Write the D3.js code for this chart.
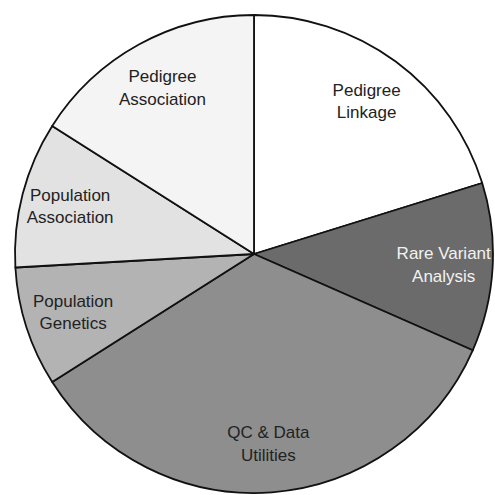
<!DOCTYPE html>
<html>
<head>
<meta charset="utf-8">
<script src="https://cdn.jsdelivr.net/npm/d3@7"></script>
<style>
	body { margin: 0; background: #fff; }
	text { font-family: "Liberation Sans", Arial, sans-serif; }
</style>
</head>
<body>
<script>
// slice names (two lines each) and shares, clockwise from 12 o'clock
var categories = [
	["Pedigree", "Linkage"],
	["Rare Variant", "Analysis"],
	["QC & Data", "Utilities"],
	["Population", "Genetics"],
	["Population", "Association"],
	["Pedigree", "Association"]
];
var values = [20.2, 11.4, 34.4, 8.1, 9.9, 16.0];
var fills = ["#ffffff", "#6b6b6b", "#8e8e8e", "#b3b3b3", "#e2e2e2", "#f4f4f4"];
var textColors = ["#222", "#f2f2f2", "#222", "#222", "#222", "#222"];

var width = 495, height = 495,
	cx = 254, cy = 254,
	radius = 239;

var svg = d3.select("body").
	append("svg").
	attr("width", width).
	attr("height", height).
	append("g").
	attr("transform", "translate(" + cx + "," + cy + ")");

var pie = d3.pie()
	.sort(null)
	.value(function (d) { return d; });

var arcs = pie(values);

var arc = d3.arc()
	.innerRadius(0)
	.outerRadius(radius);

// labels sit about 4/5 of the way out
var labelArc = d3.arc()
	.innerRadius(radius * 0.795)
	.outerRadius(radius * 0.795);

svg.selectAll(".slice")
	.data(arcs)
	.enter().append("path")
	.attr("class", "slice")
	.attr("d", arc)
	.attr("fill", function (d, i) { return fills[i]; })
	.attr("stroke", "#111")
	.attr("stroke-width", 1.8)
	.attr("stroke-linejoin", "round");

var label = svg.selectAll(".label")
	.data(arcs)
	.enter().append("text")
	.attr("class", "label")
	.attr("transform", function (d) { return "translate(" + labelArc.centroid(d) + ")"; })
	.attr("text-anchor", "middle")
	.attr("font-size", 17)
	.attr("fill", function (d, i) { return textColors[i]; });

label.selectAll("tspan")
	.data(function (d, i) { return categories[i]; })
	.enter().append("tspan")
	.attr("x", 0)
	.attr("y", function (d, j) { return (j - 0.5) * 22.5; })
	.attr("dy", "0.35em")
	.text(function (d) { return d; });
</script>
</body>
</html>
